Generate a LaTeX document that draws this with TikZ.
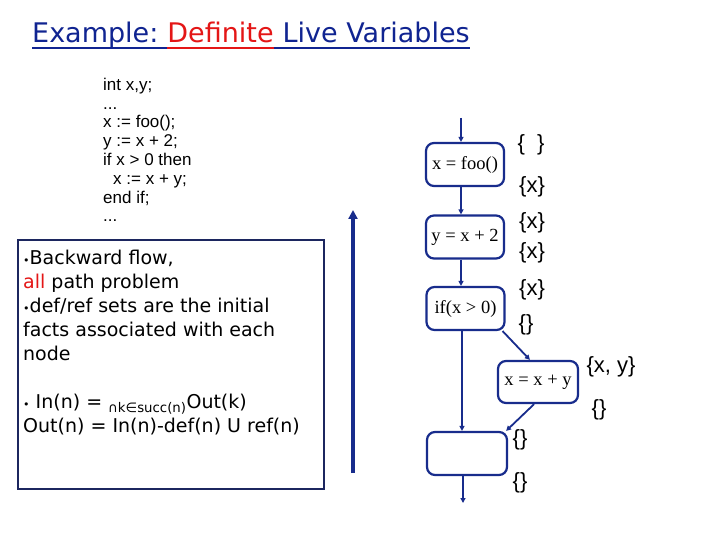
\documentclass[tikz,border=0pt]{standalone}
\usepackage{fontspec}
\setmainfont{DejaVu Sans}
\newfontfamily\codefont{Liberation Sans}
\newfontfamily\stmtfont{Liberation Serif}
\usetikzlibrary{arrows.meta}
\definecolor{navy}{RGB}{24,44,140}
\definecolor{boxnavy}{RGB}{28,38,95}
\definecolor{titleblue}{RGB}{16,36,145}
\definecolor{alertred}{RGB}{228,22,22}
\begin{document}
\begin{tikzpicture}[x=1pt,y=-1pt,
  stmt/.style={draw=navy,line width=2.2pt,rounded corners=8pt,
    minimum width=78pt,minimum height=43pt,inner sep=1pt,
    font=\stmtfont\fontsize{18.5}{20}\selectfont},
  flow/.style={navy,line width=1.8pt,-{Triangle[length=5pt,width=5pt]}},
  fact/.style={font=\codefont\fontsize{22}{23}\selectfont,inner sep=0pt},
  head/.style={anchor=base west,inner sep=0pt,font=\fontsize{27}{30}\selectfont}]
\useasboundingbox[fill=white] (0,0) rectangle (720,540);
\node[head,text=titleblue] (head1) at (32,43) {Example:\ \ };
\node[head,text=alertred] (head2) at (head1.base east) {Definite};
\node[head,text=titleblue] (head3) at (head2.base east) {\ Live Variables};
\draw[titleblue,line width=1.8pt] ([yshift=-5pt]head1.base west) -- ([yshift=-5pt]head1.base east);
\draw[alertred,line width=1.8pt] ([yshift=-5pt]head2.base west) -- ([yshift=-5pt]head2.base east);
\draw[titleblue,line width=1.8pt] ([yshift=-5pt]head3.base west) -- ([yshift=-5pt]head3.base east);
% base of a multi-line node is its last line
\node[anchor=base west,inner sep=0pt,align=left,font=\codefont\fontsize{17}{18.8}\selectfont] (code) at (103,222)
  {int x,y;\\ ...\\ x := foo();\\ y := x + 2;\\ if x > 0 then\\ \hspace*{10pt}x := x + y;\\ end if;\\ ...};
\node[draw=boxnavy,line width=2pt,minimum width=306pt,minimum height=249pt,inner sep=0pt] (notes) at (171,364.5) {};
\node[anchor=base west,inner sep=0pt,align=left,font=\fontsize{19}{24}\selectfont] (facts) at (23,432)
  {{\fontsize{11}{11}\selectfont•}Backward flow,\\
   \textcolor{alertred}{all} path problem\\
   {\fontsize{11}{11}\selectfont•}def/ref sets are the initial\\
   facts associated with each\\
   node\\[24pt]
   {\fontsize{11}{11}\selectfont•} In(n) = \textsubscript{∩k∈succ(n)}Out(k)\\
   Out(n) = In(n)-def(n) U ref(n)};
\coordinate (up0) at (353,473);
\coordinate (up1) at (353,210);
\draw[navy,line width=3.2pt,-{Triangle[length=9pt,width=9pt]}] (up0) -- (up1);
\node[stmt] (foo) at (465,164.5) {x = foo()};
\node[stmt] (add) at (465,237) {y = x + 2};
\node[stmt] (cond) at (465.5,308.5) {if(x > 0)};
\node[stmt,minimum width=80pt,minimum height=42pt] (upd) at (538,382) {x = x + y};
\node[stmt,minimum width=80pt] (join) at (467,453.5) {};
\coordinate (entry) at (461,118);
\coordinate (exit) at (463,503);
\draw[flow] (entry) -- (entry |- foo.north);
\draw[flow] ([xshift=-4pt]foo.south) -- ([xshift=-4pt]foo.south |- add.north);
\draw[flow] ([xshift=-4pt]add.south) -- ([xshift=-4pt]add.south |- cond.north);
\draw[flow] ([xshift=-3pt]cond.south east) -- (upd.110);
\draw[flow] ([xshift=-3.5pt]cond.south) -- ([xshift=-3.5pt]cond.south |- join.north);
\draw[flow] (upd.-100) -- ([xshift=-2pt]join.north east);
\draw[flow] (exit |- join.south) -- (exit);
\node[fact] (inFoo) at (531,145) {\{\ \ \}};
\node[fact] (outFoo) at (532,187) {\{x\}};
\node[fact] (inAdd) at (532,223) {\{x\}};
\node[fact] (outAdd) at (532,253) {\{x\}};
\node[fact] (inCond) at (532,290) {\{x\}};
\node[fact] (outCond) at (526,325) {\{\}};
\node[fact] (inUpd) at (611,367) {\{x, y\}};
\node[fact] (outUpd) at (599,410) {\{\}};
\node[fact] (inJoin) at (520,440) {\{\}};
\node[fact] (outJoin) at (520,483) {\{\}};
\end{tikzpicture}
\end{document}
